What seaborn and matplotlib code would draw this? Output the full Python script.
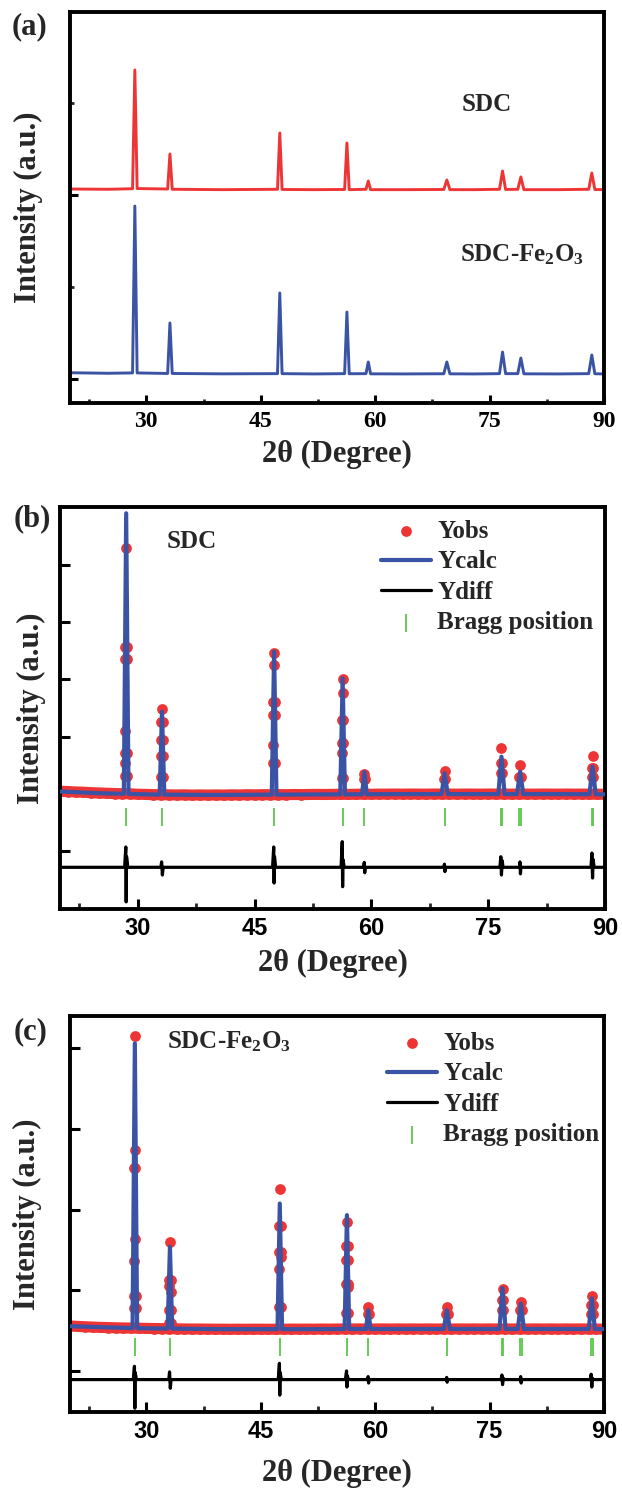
import numpy as np
import pandas as pd
import matplotlib
matplotlib.use("Agg")
import matplotlib.pyplot as plt
import seaborn as sns
from matplotlib.ticker import FixedLocator, MultipleLocator

# ---------------- data ----------------
PEAK_POS = [28.5, 33.1, 47.5, 56.3, 59.1, 69.4, 76.7, 79.1, 88.4]

# sampled profile positions (baseline + peak feet/tops)
PROFILE_X = [20, 25, 28.2, 28.5, 28.8, 32.8, 33.1, 33.4, 40, 47.2, 47.5, 47.8,
             52, 56.0, 56.3, 56.6, 58.8, 59.1, 59.4, 64, 69.0, 69.4, 69.8, 73,
             76.3, 76.7, 77.1, 78.7, 79.1, 79.5, 84, 88.0, 88.4, 88.8, 90]

# panel (a): stacked XRD patterns
A_SDC = [2065, 2062, 2068, 3359, 2070, 2065, 2446, 2062, 2058, 2062, 2674, 2060,
         2058, 2060, 2565, 2058, 2062, 2152, 2058, 2058, 2060, 2163, 2058, 2058,
         2062, 2261, 2060, 2062, 2196, 2058, 2058, 2062, 2239, 2060, 2058]
A_SDC_FE = [68, 62, 66, 1880, 66, 60, 609, 60, 56, 58, 935, 58,
            55, 58, 728, 57, 58, 185, 56, 55, 57, 185, 56, 55,
            58, 293, 58, 58, 228, 56, 55, 58, 261, 57, 55]

# panels (b), (c): calculated profiles
B_CALC = [1040, 1010, 1000, 5904, 998, 985, 2436, 985, 980, 985, 3485, 985,
          988, 990, 3019, 990, 992, 1380, 992, 995, 995, 1358, 995, 995,
          995, 1649, 995, 995, 1387, 995, 995, 992, 1474, 992, 990]
C_CALC = [555, 540, 532, 4062, 530, 525, 1538, 525, 518, 518, 2076, 518,
          518, 520, 1932, 520, 520, 753, 520, 520, 520, 753, 520, 520,
          520, 1026, 520, 520, 833, 520, 520, 520, 900, 520, 518]

# observed points: baseline samples every degree
OBS_GRID = [20, 21, 22, 23, 24, 25, 26, 27, 28, 29,
            30, 31, 32, 33, 34, 35, 36, 37, 38, 39,
            40, 41, 42, 43, 44, 45, 46, 47, 48, 49,
            50, 51, 52, 53, 54, 55, 56, 57, 58, 59,
            60, 61, 62, 63, 64, 65, 66, 67, 68, 69,
            70, 71, 72, 73, 74, 75, 76, 77, 78, 79,
            80, 81, 82, 83, 84, 85, 86, 87, 88, 89, 90]
B_OBS_BASE = [1045, 1040, 1032, 1028, 1020, 1015, 1010, 1005, 1002, 1000,
              992, 990, 985, 985, 982, 980, 982, 978, 980, 978,
              980, 978, 982, 980, 984, 982, 985, 984, 986, 985,
              988, 986, 988, 990, 988, 990, 992, 990, 992, 994,
              992, 995, 994, 996, 994, 996, 995, 994, 996, 995,
              996, 994, 996, 995, 994, 996, 995, 996, 994, 996,
              995, 994, 996, 995, 994, 996, 994, 995, 993, 994, 990]
C_OBS_BASE = [558, 552, 548, 544, 540, 538, 535, 533, 532, 530,
              528, 526, 525, 524, 522, 521, 520, 520, 519, 518,
              518, 517, 518, 517, 518, 518, 517, 518, 518, 519,
              518, 519, 518, 520, 519, 520, 521, 520, 521, 520,
              520, 521, 520, 521, 520, 521, 520, 521, 520, 521,
              520, 521, 520, 521, 520, 521, 520, 521, 520, 521,
              520, 521, 520, 521, 520, 521, 520, 521, 520, 520, 518]

# observed points on the peaks
B_DOT_X = [28.5, 28.35, 28.65, 28.35, 28.65, 28.4, 28.35, 28.65, 28.4, 28.35, 28.65,
           33.1, 33.2, 33.0, 33.2, 33.0, 33.2, 33.0, 33.0, 33.2,
           47.5, 47.5, 47.4, 47.6, 47.4, 47.6, 47.4, 47.6, 47.4,
           56.3, 56.3, 56.2, 56.4, 56.2, 56.4, 56.2, 56.2, 56.4,
           59.1, 59.0, 59.2,
           69.4, 69.3, 69.5,
           76.7, 76.6, 76.8, 76.6, 76.8,
           79.1, 79.0, 79.2,
           88.4, 88.3, 88.5, 88.3, 88.5]
B_DOT_Y = [5292, 3572, 3572, 3351, 3351, 2104, 1719, 1719, 1533, 1311, 1311,
           2477, 2261, 2261, 1941, 1941, 1661, 1661, 1300, 1300,
           3456, 3252, 2610, 2610, 2378, 2378, 1853, 1544, 1544,
           3001, 2757, 2290, 2290, 1883, 1883, 1708, 1271, 1271,
           1341, 1250, 1250,
           1399, 1250, 1250,
           1795, 1538, 1538, 1364, 1364,
           1503, 1300, 1300,
           1661, 1450, 1450, 1300, 1300]
C_DOT_X = [28.5, 28.5, 28.45, 28.55, 28.5, 28.42, 28.4, 28.6, 28.4, 28.6,
           33.1, 33.0, 33.2, 33.0, 33.2, 33.0, 33.2, 33.0, 33.2,
           47.5, 47.4, 47.6, 47.4, 47.6, 47.6, 47.4, 47.4, 47.6,
           56.3, 56.2, 56.4, 56.2, 56.4, 56.2, 56.4, 56.4, 56.2, 56.4,
           59.1, 59.0, 59.2,
           69.4, 69.3, 69.5,
           76.7, 76.6, 76.8, 76.6, 76.8,
           79.1, 79.0, 79.2,
           88.4, 88.3, 88.5, 88.3, 88.5]
C_DOT_Y = [4152, 2738, 2520, 2520, 1630, 1365, 927, 927, 778, 778,
           1600, 1125, 1125, 1051, 984, 753, 753, 592, 592,
           2262, 1795, 1795, 1477, 1477, 1411, 1258, 790, 790,
           1852, 1547, 1547, 1373, 1373, 1084, 1084, 1039, 716, 716,
           787, 700, 700,
           787, 700, 700,
           1010, 880, 880, 760, 760,
           856, 760, 760,
           927, 820, 820, 700, 700]

# difference curves
DIFF_X = [20, 28.3, 28.45, 28.5, 28.55, 28.7, 32.95, 33.05, 33.15, 33.25,
          47.3, 47.45, 47.5, 47.55, 47.7, 56.1, 56.25, 56.3, 56.35, 56.5,
          59.0, 59.08, 59.14, 59.2, 69.3, 69.38, 69.44, 69.5,
          76.5, 76.62, 76.7, 76.8, 76.9, 79.0, 79.08, 79.14, 79.2,
          88.2, 88.32, 88.4, 88.48, 88.6, 90]
B_DIFF = [-285, -285, 70, -890, -100, -285, -285, -190, -420, -285,
          -285, 70, -560, -100, -285, -285, 163, -624, -150, -285,
          -285, -200, -380, -285, -285, -230, -360, -285,
          -285, -100, -420, -170, -285, -285, -190, -400, -285,
          -285, -35, -472, -150, -285, -285]
C_DIFF = [-107, -107, 58, -462, -20, -107, -107, -12, -215, -107,
          -107, 95, -300, -20, -107, -107, 0, -200, -60, -107,
          -107, -70, -150, -107, -107, -80, -140, -107,
          -107, -50, -170, -90, -107, -107, -70, -150, -107,
          -107, -40, -200, -90, -107, -107]

BRAGG_POS = [28.5, 33.1, 47.5, 56.3, 59.1, 69.4, 76.6, 76.8, 78.98, 79.22, 88.28, 88.52]
B_BRAGG_LEVEL = 600
C_BRAGG_LEVEL = 300

X_TICKS = [30, 45, 60, 75, 90]
SERIES_LABELS = ["Yobs", "Ycalc", "Ydiff", "Bragg position"]

# ---------------- style ----------------
RED = "#EE3535"
BLUE = "#3A53A4"
GREEN = "#5BC84A"

sns.set_theme(style="white")
plt.rcParams["font.family"] = ["Liberation Serif", "DejaVu Serif"]
plt.rcParams["font.weight"] = "bold"
plt.rcParams["axes.labelweight"] = "bold"
plt.rcParams["mathtext.default"] = "regular"

W, H = 622, 1489
fig = plt.figure(figsize=(W / 100, H / 100), dpi=100)
fig.patch.set_facecolor("white")


def px_rect(x0, y0, x1, y1):
    return [x0 / W, 1 - y1 / H, (x1 - x0) / W, (y1 - y0) / H]


def style_axes(ax, major_len, minor_len, sans):
    for s in ax.spines.values():
        s.set_linewidth(2.8)
        s.set_color("black")
    ax.set_xlim(20, 90)
    ax.xaxis.set_major_locator(FixedLocator(X_TICKS))
    ax.xaxis.set_minor_locator(MultipleLocator(7.5))
    ax.tick_params(axis="both", which="major", direction="in", length=major_len,
                   width=2.2, top=False, right=False, left=True, bottom=True,
                   labelleft=False, labelsize=17, pad=6, colors="black")
    ax.tick_params(axis="both", which="minor", direction="in", length=minor_len,
                   width=2.0, top=False, right=False, left=True, bottom=True)
    if sans:
        ax.tick_params(axis="x", labelfontfamily="Liberation Sans")
    for t in ax.get_xticklabels():
        t.set_fontweight("bold")
    ax.set_xlabel("2θ (Degree)", fontsize=22, fontweight="bold")
    ax.set_ylabel("Intensity (a.u.)", fontsize=22, fontweight="bold")
    ax.grid(False)
    ax.set_facecolor("white")


def fit_panel(ax, obs_base, dot_x, dot_y, calc, diff, bragg_level):
    obs_x = OBS_GRID + dot_x
    obs_y = obs_base + dot_y
    # dense observed band
    sns.lineplot(x=OBS_GRID, y=obs_base, color=RED, linewidth=8, ax=ax,
                 zorder=1, legend=False)
    sns.scatterplot(x=obs_x, y=obs_y, color=RED, s=60, linewidth=0, ax=ax,
                    zorder=2, label=SERIES_LABELS[0])
    sns.lineplot(x=PROFILE_X, y=calc, color=BLUE, linewidth=3.0, ax=ax,
                 zorder=3, label=SERIES_LABELS[1])
    sns.lineplot(x=DIFF_X, y=diff, color="black", linewidth=2.3, ax=ax,
                 zorder=3, label=SERIES_LABELS[2])
    sns.scatterplot(x=BRAGG_POS, y=[bragg_level] * len(BRAGG_POS), marker="|",
                    s=170, color=GREEN, linewidth=1.3, ax=ax, zorder=3,
                    label=SERIES_LABELS[3])
    handles, labels = ax.get_legend_handles_labels()
    hmap = dict(zip(labels, handles))
    return [hmap[l] for l in SERIES_LABELS]


# ---------------- panel (a) ----------------
axA = fig.add_axes(px_rect(70, 12, 604, 403))
sns.lineplot(x=PROFILE_X, y=A_SDC, color=RED, linewidth=2.1, ax=axA, legend=False)
sns.lineplot(x=PROFILE_X, y=A_SDC_FE, color=BLUE, linewidth=2.1, ax=axA, legend=False)
axA.set_ylim(-261, 3989)
axA.yaxis.set_major_locator(FixedLocator([0, 2000]))
axA.yaxis.set_minor_locator(FixedLocator([1000, 3000]))
style_axes(axA, 5.8, 2.8, sans=False)
axA.xaxis.set_label_coords(0.5, -0.095)
axA.yaxis.set_label_coords(-0.05, 0.5)
axA.text(0.734, 0.747, "SDC", transform=axA.transAxes, fontsize=18,
         fontweight="bold", ha="left", va="baseline")
axA.text(0.730, 0.361, "SDC-Fe$_2$O$_3$", transform=axA.transAxes, fontsize=18,
         fontweight="bold", ha="left", va="baseline")

# ---------------- panel (b) ----------------
axB = fig.add_axes(px_rect(60, 507, 605, 909))
hB = fit_panel(axB, B_OBS_BASE, B_DOT_X, B_DOT_Y, B_CALC, B_DIFF, B_BRAGG_LEVEL)
axB.set_ylim(-1014, 6014)
axB.yaxis.set_major_locator(FixedLocator([0, 1000, 2000, 3000, 4000, 5000]))
style_axes(axB, 7.2, 4.3, sans=True)
axB.xaxis.set_label_coords(0.5, -0.1)
axB.yaxis.set_label_coords(-0.026, 0.5)
axB.text(0.196, 0.898, "SDC", transform=axB.transAxes, fontsize=18,
         fontweight="bold", ha="left", va="baseline")
axB.legend(handles=hB, labels=SERIES_LABELS, loc="upper left",
           bbox_to_anchor=(0.589, 0.968), frameon=False, fontsize=18,
           borderpad=0, borderaxespad=0, handlelength=2.0, handletextpad=0.25,
           labelspacing=0.3, scatterpoints=1)

# ---------------- panel (c) ----------------
axC = fig.add_axes(px_rect(70, 1016, 604, 1412))
hC = fit_panel(axC, C_OBS_BASE, C_DOT_X, C_DOT_Y, C_CALC, C_DIFF, C_BRAGG_LEVEL)
axC.set_ylim(-509, 4401)
axC.yaxis.set_major_locator(FixedLocator([0, 1000, 2000, 3000, 4000]))
style_axes(axC, 7.2, 4.3, sans=True)
axC.xaxis.set_label_coords(0.5, -0.118)
axC.yaxis.set_label_coords(-0.052, 0.5)
axC.text(0.182, 0.917, "SDC-Fe$_2$O$_3$", transform=axC.transAxes, fontsize=18,
         fontweight="bold", ha="left", va="baseline")
axC.legend(handles=hC, labels=SERIES_LABELS, loc="upper left",
           bbox_to_anchor=(0.594, 0.96), frameon=False, fontsize=18,
           borderpad=0, borderaxespad=0, handlelength=2.0, handletextpad=0.25,
           labelspacing=0.3, scatterpoints=1)

# ---------------- panel letters ----------------
for (px, py), letter in zip([(30, 27), (32, 519), (31, 1032)], ["(a)", "(b)", "(c)"]):
    fig.text(px / W, 1 - py / H, letter, fontsize=22, fontweight="bold",
             ha="center", va="center")

fig.savefig("out.png", dpi=100)
